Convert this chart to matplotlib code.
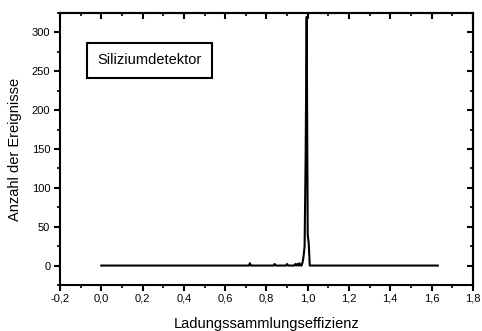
import numpy as np
import matplotlib.pyplot as plt
from matplotlib.ticker import MultipleLocator, FuncFormatter

plt.rcParams['font.family'] = ['Liberation Sans', 'DejaVu Sans']

# histogram of charge collection efficiency, bin width 0.005
bin_start = 0.0
bin_stop = 1.63
bin_width = 0.005

# bins that hold events (all other bins are empty)
eff_filled = [0.72, 0.84, 0.90, 0.94, 0.95, 0.96, 0.975, 0.98, 0.985, 0.99,
              0.995, 1.0, 1.005]
counts_filled = [3, 2, 2, 2, 2, 3, 4, 12, 25, 140, 320, 40, 28]

xticks = [-0.2, 0.0, 0.2, 0.4, 0.6, 0.8, 1.0, 1.2, 1.4, 1.6, 1.8]
yticks = [0, 50, 100, 150, 200, 250, 300]

eff = np.round(np.arange(bin_start, bin_stop + bin_width / 2, bin_width), 3)
counts = np.zeros_like(eff)
for e, c in zip(eff_filled, counts_filled):
    counts[np.argmin(np.abs(eff - e))] = c

fig = plt.figure(figsize=(4.82, 3.31), dpi=100)
ax = fig.add_axes([0.1245, 0.139, 0.8565, 0.822])

ax.plot(eff, counts, color='black', linewidth=1.5)

ax.set_xlim(-0.2, 1.8)
ax.set_ylim(-25, 325)
ax.set_xticks(xticks)
ax.set_yticks(yticks)
ax.xaxis.set_minor_locator(MultipleLocator(0.1))
ax.yaxis.set_minor_locator(MultipleLocator(25))
ax.xaxis.set_major_formatter(FuncFormatter(lambda v, p: f'{v:.1f}'.replace('.', ',')))

for s in ax.spines.values():
    s.set_linewidth(1.5)

ax.tick_params(which='major', direction='out', length=4, width=1.5, labelsize=8)
ax.tick_params(axis='x', which='major', pad=2)
ax.tick_params(axis='y', which='major', pad=3)
ax.tick_params(which='minor', direction='out', length=2, width=1.2)

# mirrored ticks on top and right, pointing inward
top = ax.secondary_xaxis('top')
top.set_xticks(xticks)
top.xaxis.set_minor_locator(MultipleLocator(0.1))
top.tick_params(which='major', direction='in', length=4, width=1.5, labeltop=False)
top.tick_params(which='minor', direction='in', length=2, width=1.2)
top.spines['top'].set_linewidth(1.5)

right = ax.secondary_yaxis('right')
right.set_yticks(yticks)
right.yaxis.set_minor_locator(MultipleLocator(25))
right.tick_params(which='major', direction='in', length=4, width=1.5, labelright=False)
right.tick_params(which='minor', direction='in', length=2, width=1.2)
right.spines['right'].set_linewidth(1.5)

ax.set_xlabel('Ladungssammlungseffizienz', fontsize=10.5, labelpad=10)
ax.set_ylabel('Anzahl der Ereignisse', fontsize=10.5, labelpad=7)

ax.text(-0.02, 264, 'Siliziumdetektor', fontsize=10.5, va='center', ha='left',
        bbox=dict(boxstyle='square,pad=0.7', facecolor='white',
                  edgecolor='black', linewidth=1.5))

fig.savefig('out.png', dpi=100)
